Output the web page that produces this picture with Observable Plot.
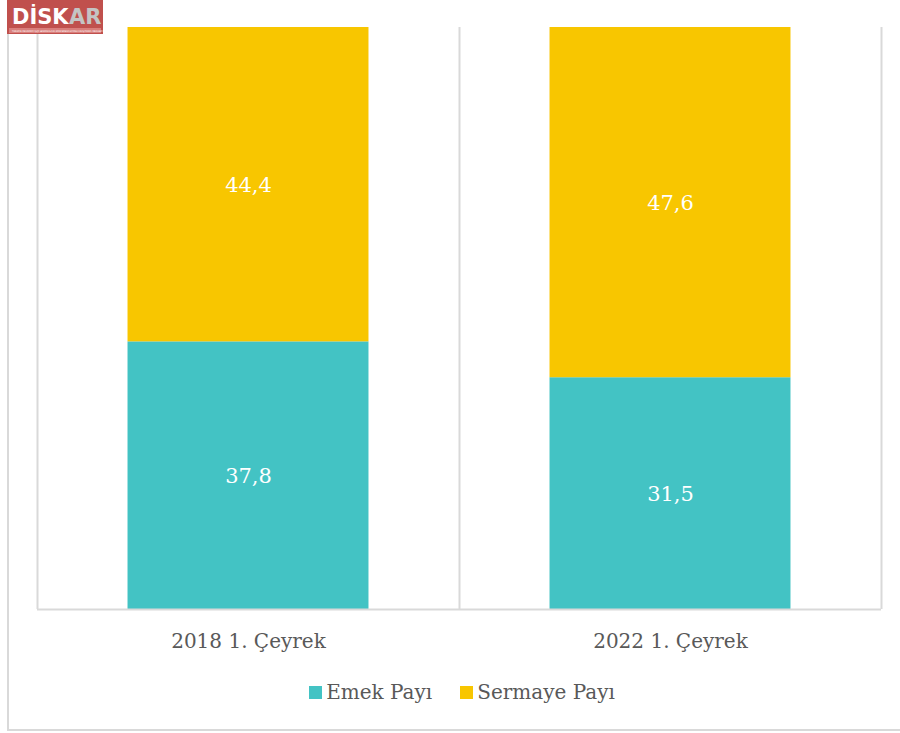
<!DOCTYPE html>
<html>
<head>
<meta charset="utf-8">
<script src="https://cdn.jsdelivr.net/npm/d3@7"></script>
<script src="https://cdn.jsdelivr.net/npm/@observablehq/plot@0.6"></script>
<style>
  html, body { margin: 0; padding: 0; background: #fff; }
  body { width: 900px; height: 733px; position: relative; overflow: hidden; font-family: "DejaVu Serif", serif; }
  #border { position: absolute; left: 7px; top: -10px; width: 1000px; height: 741px; border: 2px solid #d9d9d9; box-sizing: border-box; }
  #chart { position: absolute; left: 0; top: 0; }
  #legend { position: absolute; left: 0; top: 680px; width: 924px; display: flex; justify-content: center; align-items: center; gap: 28px; font-size: 20px; color: #595959; }
  .item { display: flex; align-items: center; }
  .sw { width: 13px; height: 13px; margin-right: 4px; }
  #logo { position: absolute; left: 7px; top: 0; }
</style>
</head>
<body>
<div id="border"></div>
<div id="chart"></div>
<div id="legend"></div>
<svg id="logo" width="96" height="34" viewBox="0 0 96 34">
  <rect x="0" y="0" width="96" height="34" fill="#c0504d"/>
  <text x="5" y="23.5" font-family="DejaVu Sans, sans-serif" font-weight="bold" font-size="21" fill="#fff">DİSK</text>
  <text x="62" y="23.5" font-family="DejaVu Sans, sans-serif" font-weight="bold" font-size="21" fill="#c4c4c4">AR</text>
  <rect x="2" y="28" width="92" height="5" fill="#d97e7b"/>
  <text x="5" y="32.2" font-family="DejaVu Sans, sans-serif" font-size="2.3" fill="#fff">TÜRKİYE DEVRİMCİ İŞÇİ SENDİKALARI KONFEDERASYONU ARAŞTIRMA MERKEZİ</text>
</svg>
<script>
const categories = ["2018 1. Çeyrek", "2022 1. Çeyrek"];
const seriesNames = ["Emek Payı", "Sermaye Payı"];
const emek = [37.8, 31.5];
const sermaye = [44.4, 47.6];
const colors = ["#43c3c4", "#f8c600"];
const boundaries = [0, 1, 2];

const rows = categories.flatMap((c, i) => [
  {cat: c, i, series: seriesNames[0], value: emek[i]},
  {cat: c, i, series: seriesNames[1], value: sermaye[i]}
]);
const pad = 0.2145;
const fmt = v => v.toFixed(1).replace(".", ",");

const plot = Plot.plot({
  width: 900,
  height: 660,
  marginLeft: 37,
  marginRight: 19,
  marginTop: 27,
  marginBottom: 51,
  style: {fontFamily: "DejaVu Serif, serif", fontSize: "20px", background: "transparent"},
  x: {domain: [0, 2], axis: null},
  y: {domain: [0, 1], axis: null},
  color: {domain: seriesNames, range: colors},
  marks: [
    Plot.ruleX(boundaries, {stroke: "#d9d9d9", strokeWidth: 2}),
    Plot.rectY(rows, Plot.stackY({
      x1: d => d.i + pad, x2: d => d.i + 1 - pad,
      y: "value", fill: "series", offset: "normalize"
    })),
    Plot.ruleY([0], {stroke: "#d9d9d9", strokeWidth: 2}),
    Plot.text(rows, Plot.stackY({
      x: d => d.i + 0.5, y: "value", offset: "normalize",
      text: d => fmt(d.value), fill: "#fff", fontSize: 21, dy: 1
    })),
    Plot.text(categories, {
      x: (d, i) => i + 0.5, text: d => d, frameAnchor: "bottom",
      dy: 38, fill: "#595959", fontSize: 20
    })
  ]
});
document.getElementById("chart").appendChild(plot);

const legend = document.getElementById("legend");
seriesNames.forEach((s, k) => {
  const it = document.createElement("div");
  it.className = "item";
  it.innerHTML = `<div class="sw" style="background:${colors[k]}"></div><span>${s}</span>`;
  legend.appendChild(it);
});
</script>
</body>
</html>
